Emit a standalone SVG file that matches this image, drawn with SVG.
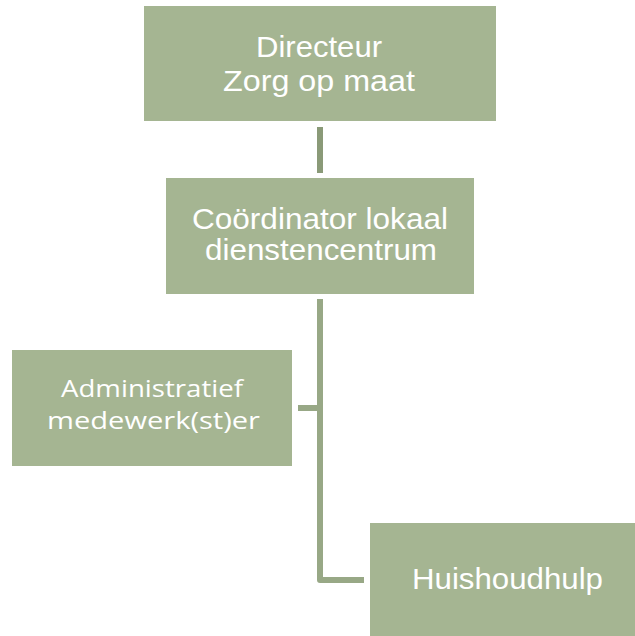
<svg xmlns="http://www.w3.org/2000/svg" width="635" height="636" viewBox="0 0 635 636">
<style>
.box{fill:#a5b592}
.t{fill:#ffffff;font-family:"Liberation Sans",Arial,sans-serif;text-anchor:middle}
.t2{fill:#ffffff;font-family:"Open Sans","Noto Sans",sans-serif;font-size:24px;text-anchor:middle}
.c{fill:none;stroke:#98a886;stroke-width:6;stroke-linejoin:round}
</style>
<rect width="635" height="636" fill="#ffffff"/>
<g id="connectors">
<line x1="320" y1="127" x2="320" y2="173" stroke="#8a9a78" stroke-width="6"/>
<path class="c" d="M320 299 V580 H364"/>
<path class="c" d="M298 408 H320"/>
</g>
<g id="directeur">
<rect class="box" x="144" y="6" width="352" height="115"/>
<text class="t" x="319" y="57" font-size="30" textLength="126" lengthAdjust="spacingAndGlyphs">Directeur</text>
<text class="t" x="319" y="91" font-size="30" textLength="192" lengthAdjust="spacingAndGlyphs">Zorg op maat</text>
</g>
<g id="coordinator">
<rect class="box" x="166" y="178" width="308" height="116"/>
<text class="t" x="320" y="229" font-size="30" textLength="256" lengthAdjust="spacingAndGlyphs">Coördinator lokaal</text>
<text class="t" x="321" y="260" font-size="30" textLength="232" lengthAdjust="spacingAndGlyphs">dienstencentrum</text>
</g>
<g id="administratief">
<rect class="box" x="12" y="350" width="280" height="116"/>
<text class="t2" x="152" y="397" textLength="182" lengthAdjust="spacingAndGlyphs">Administratief</text>
<text class="t2" x="153.5" y="429" textLength="213" lengthAdjust="spacingAndGlyphs">medewerk(st)er</text>
</g>
<g id="huishoudhulp">
<rect class="box" x="370" y="523" width="265" height="113"/>
<text class="t" x="507.5" y="589" font-size="30" textLength="191" lengthAdjust="spacingAndGlyphs">Huishoudhulp</text>
</g>
</svg>
